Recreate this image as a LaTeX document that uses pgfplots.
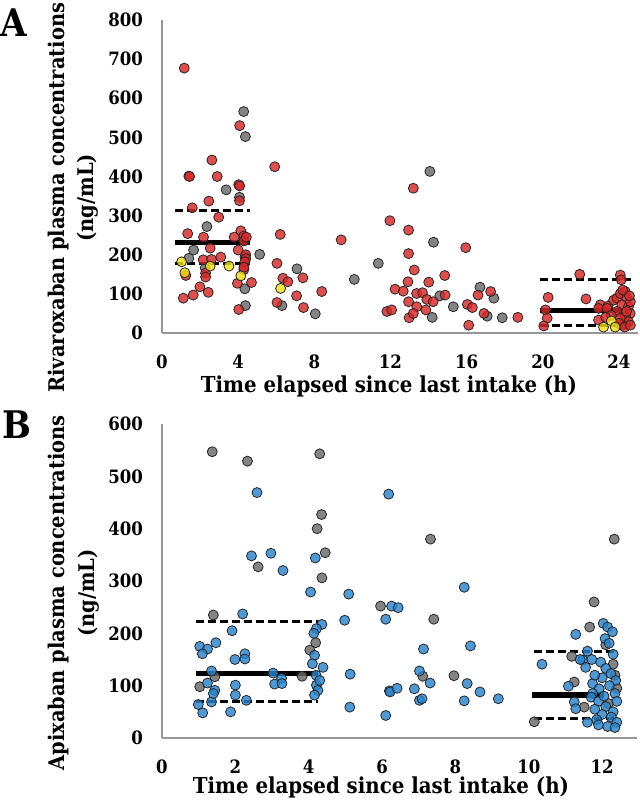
\documentclass[border=0pt]{standalone}
\usepackage{fontspec}
\setmainfont{DejaVu Serif Condensed}
\usepackage{pgfplots}
\pgfplotsset{compat=1.18}
\definecolor{ptred}{RGB}{216,38,38}
\definecolor{ptgrey}{RGB}{105,105,105}
\definecolor{ptyellow}{RGB}{240,222,20}
\definecolor{ptblue}{RGB}{38,132,206}
\definecolor{axgrey}{RGB}{150,150,150}
\pgfplotsset{
  myaxis/.style={
    scale only axis, clip=false,
    axis x line*=bottom, axis y line*=left,
    axis line style={draw=axgrey, line width=0.8pt, -},
    major tick length=0pt, tick style={draw=none},
    /pgf/number format/assume math mode=true,
    ticklabel style={font=\bfseries\fontsize{9.2}{11}\selectfont},
    xticklabel style={yshift=-7.5pt},
    yticklabel style={xshift=-6pt},
    label style={font=\bfseries\fontsize{11}{14.75}\selectfont},
    ylabel style={align=center, anchor=center, font=\bfseries\fontsize{10.8}{14.75}\selectfont},
    xlabel style={anchor=base},
  },
  pts/.style={only marks, mark=*, mark size=2.5pt,
    mark options={draw=black!85, line width=0.4pt, fill=#1, fill opacity=0.82}},
  med/.style={black, line width=2.6pt, no marks},
  qrt/.style={black, line width=1.5pt, dash pattern=on 4pt off 2pt, no marks},
}
\begin{document}
\begin{tikzpicture}
\begin{axis}[myaxis, at={(81pt,233.5pt)}, anchor=south west,
  width=238pt, height=156.5pt, xmin=0, xmax=25, ymin=0, ymax=800,
  xtick={0,4,...,24}, ytick={0,100,...,800},
  xlabel={Time elapsed since last intake (h)},
  ylabel={Rivaroxaban plasma concentrations\\(ng/mL)},
  xlabel style={at={(axis description cs:0.477,0)}, yshift=-30pt},
  ylabel style={at={(axis description cs:-0.187,0.432)}},
]
\addplot[pts=ptgrey] coordinates {
(4.29,566) (4.38,502) (3.37,366) (4.07,347) (2.36,272) (1.66,212) (5.13,201)
(1.41,191) (2.27,166) (4.35,113) (4.38,70) (4.36,195)
(14.07,413) (14.26,232) (11.36,178) (7.09,164) (10.1,137) (14.59,95) (6.3,70)
(8.05,49) (14.19,40) (15.3,67) (16.7,117) (17.43,89) (17.08,43) (17.87,39)
};
\addplot[pts=ptred] coordinates {
(1.17,677) (4.08,530) (2.62,442) (1.41,401) (1.45,400) (2.90,400) (4.03,379)
(4.08,376) (4.07,338) (2.46,337) (1.59,320) (2.98,296) (1.35,254) (2.18,245)
(4.14,261) (4.30,248) (3.79,245) (4.30,235) (2.53,217) (2.16,187) (2.60,188)
(3.09,194) (4.00,212) (4.40,200) (4.40,190) (1.25,147) (2.29,153) (2.29,143)
(4.30,162) (4.35,182) (3.96,127) (4.70,129) (1.99,118) (1.64,97) (2.43,104)
(1.12,89) (4.03,60) (4.43,245) (4.3,168)
(5.92,425) (13.2,370) (11.97,287) (12.95,263) (6.21,252) (9.41,238) (15.95,218)
(12.95,203) (6.04,178) (13.25,161) (14.85,147) (7.4,141) (6.35,140) (6.61,131)
(8.39,106) (7.07,95) (12.92,131) (14.01,130) (12.24,112) (12.67,107) (13.37,101)
(13.68,103) (14.87,97) (12.95,80) (13.91,86) (14.24,80) (13.38,67) (6.04,78)
(7.43,65) (11.81,55) (12.06,59) (13.86,59) (12.98,39) (13.2,50) (16.04,73)
(16.3,65) (16.11,20) (16.6,97) (17.26,106) (16.91,50) (18.69,40)
(21.94,150) (24.07,148) (24.12,136) (20.28,91) (22.27,87) (20.14,59) (20.23,38)
(20.05,18) (23.02,72) (23.42,69) (22.93,33) (22.93,63) (23.37,63) (23.72,84)
(23.89,89) (24.07,101) (24.33,106) (24.42,89) (24.15,72) (24.5,67) (24.59,50)
(24.33,42) (24.5,29) (24.15,20) (23.89,55) (24.07,38) (24.6,80) (24.4,55)
(24.2,110) (24.55,95) (23.6,45) (24.0,25) (24.3,15) (24.6,20) (23.3,40)
};
\addplot[pts=ptyellow] coordinates {
(1.03,182) (2.53,171) (3.52,171) (1.20,154) (4.14,146) (6.23,114)
(23.19,15) (23.6,31) (23.8,15)
};
\addplot[qrt] coordinates {(0.68,313) (4.64,313)};
\addplot[med] coordinates {(0.68,231) (4.64,231)};
\addplot[qrt] coordinates {(0.68,178) (4.64,178)};
\addplot[qrt] coordinates {(19.84,136) (24.64,136)};
\addplot[med] coordinates {(19.84,57) (24.2,57)};
\addplot[qrt] coordinates {(19.84,18) (24.64,18)};
\end{axis}

\begin{axis}[myaxis, at={(81pt,31pt)}, anchor=south west,
  width=237.5pt, height=157pt, xmin=0, xmax=12.95, ymin=0, ymax=600,
  xtick={0,2,...,12}, ytick={0,100,...,600},
  xlabel={Time elapsed since last intake (h)},
  ylabel={Apixaban plasma concentrations\\(ng/mL)},
  xlabel style={at={(axis description cs:0.461,0)}, yshift=-28pt},
  ylabel style={at={(axis description cs:-0.186,0.462)}},
]
\addplot[pts=ptgrey] coordinates {
(1.37,547) (2.33,529) (4.3,543) (2.62,327) (4.35,427) (4.23,400) (4.45,354)
(4.36,306) (1.4,235) (4.19,182) (4.03,168) (1.44,117) (1.03,98) (3.82,118)
(7.32,380) (5.96,252) (7.41,227) (7.11,118) (7.96,119)
(11.78,260) (11.66,212) (12.1,178) (11.17,156) (12.3,141) (11.24,107) (12.17,66)
(11.51,59) (10.15,31) (12.33,380) (12.35,120) (12.4,95)
};
\addplot[pts=ptblue] coordinates {
(2.59,469) (2.44,348) (2.97,353) (3.3,320) (4.18,344) (4.05,279) (2.2,237)
(1.91,205) (1.03,175) (1.24,170) (1.47,182) (1.1,161) (1.99,150) (2.26,161)
(2.26,151) (1.35,128) (3.03,124) (3.26,114) (1.24,105) (1.44,91) (2.0,101)
(2.0,82) (3.07,103) (3.27,104) (0.99,64) (1.35,69) (1.11,48) (2.3,72) (1.87,50)
(1.4,85) (4.36,217) (4.21,209) (4.14,200) (4.16,158) (4.1,142) (4.39,135)
(4.21,101) (4.25,91) (4.16,82) (4.2,120) (4.3,110)
(6.18,466) (8.24,288) (5.09,275) (6.26,252) (6.44,249) (4.98,225) (6.1,227)
(7.13,170) (8.41,176) (5.13,122) (7.02,128) (7.31,105) (8.32,104) (6.2,90)
(6.22,88) (6.41,95) (6.88,94) (8.67,88) (7.02,72) (7.09,75) (8.24,71) (9.17,75)
(5.12,59) (6.1,43)
(12.03,219) (12.15,212) (12.28,203) (11.28,198) (12.08,190) (12.19,181)
(11.6,166) (10.36,141) (11.47,149) (11.72,150) (11.55,135) (11.96,145)
(12.1,133) (12.24,123) (12.37,110) (11.08,99) (11.74,104) (11.92,94)
(11.74,85) (11.24,69) (11.28,56) (11.7,78) (11.9,70) (12.1,60) (12.3,50)
(12.0,45) (12.25,40) (11.85,35) (12.4,30) (11.9,25) (12.15,22) (12.35,20)
(11.6,30) (12.0,115) (12.2,100) (12.35,85) (12.4,70) (12.05,80) (11.8,55)
(12.3,160) (11.4,150) (11.8,120)
};
\addplot[qrt] coordinates {(0.92,223) (4.25,223)};
\addplot[med] coordinates {(0.92,124) (4.25,124)};
\addplot[qrt] coordinates {(0.92,70) (4.25,70)};
\addplot[qrt] coordinates {(10.15,165) (12.33,165)};
\addplot[med] coordinates {(10.1,82) (12.05,82)};
\addplot[qrt] coordinates {(10.15,37) (12.33,37)};
\end{axis}

\node[anchor=north west, inner sep=0pt, font=\bfseries\fontsize{19}{22}\selectfont] at (0pt,396pt) {A};
\node[anchor=north west, inner sep=0pt, font=\bfseries\fontsize{19}{22}\selectfont] at (1pt,195pt) {B};
\pgfresetboundingbox
\path[use as bounding box] (0pt,0pt) rectangle (319.5pt,400pt);
\end{tikzpicture}
\end{document}
